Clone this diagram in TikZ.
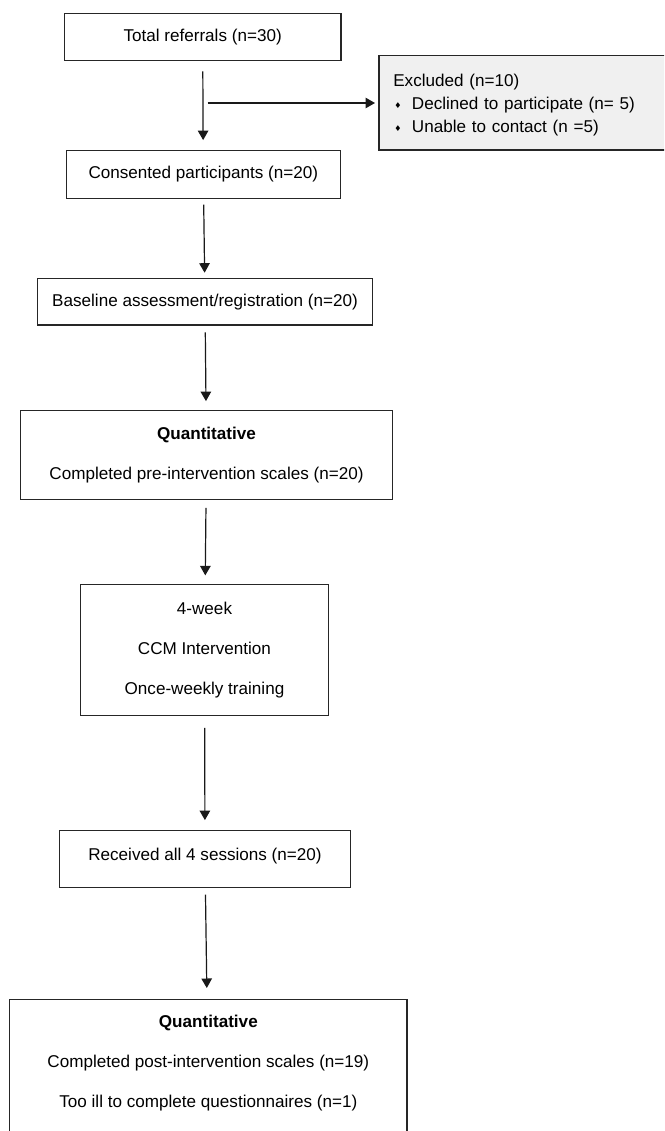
\documentclass[tikz,border=0pt]{standalone}
\usepackage{fontspec}
\setmainfont{Liberation Sans}
\newfontfamily\symfont{DejaVu Sans}
\usetikzlibrary{arrows.meta}
\begin{document}
\begin{tikzpicture}[x=1pt,y=-1pt,
  every node/.style={font=\fontsize{17.1pt}{20pt}\selectfont},
  box/.style={draw=black!85, line width=1.2pt, rectangle, inner sep=0pt, align=center},
  arr/.style={draw=black!90, line width=1.2pt, -{Triangle[width=10.5pt,length=9.5pt]}}]
\useasboundingbox (0,0) rectangle (664,1131);
\clip (0,0) rectangle (664,1131);

\node[box, minimum width=276.7pt, minimum height=47pt] (total) at (202.65,36.8) {Total referrals (n=30)};

\node[box, fill=black!6, anchor=west, minimum height=94.3pt, text width=305pt, align=left,
      inner xsep=14.4pt, text height=17.4pt, font=\fontsize{17.1pt}{23pt}\selectfont] (excl) at (378.3,102.85)
  {Excluded (n=10)\\
   \hspace*{1pt}\raisebox{1.5pt}{\symfont\fontsize{8pt}{8pt}\selectfont ♦}\hspace{10.5pt}Declined to participate (n= 5)\\
   \hspace*{1pt}\raisebox{1.5pt}{\symfont\fontsize{8pt}{8pt}\selectfont ♦}\hspace{10.5pt}Unable to contact (n =5)};

\node[box, minimum width=274pt, minimum height=48pt] (cons) at (203.3,174.3) {Consented participants (n=20)};

\node[box, minimum width=335.4pt, minimum height=46.3pt] (base) at (205,301.85) {Baseline assessment/registration (n=20)};

\node[box, minimum width=372.4pt, minimum height=88.6pt, font=\fontsize{17.1pt}{40pt}\selectfont] (quant) at (206.5,455)
  {\textbf{Quantitative}\\Completed pre-intervention scales (n=20)};

\node[box, minimum width=248.4pt, minimum height=131.4pt, font=\fontsize{17.1pt}{40pt}\selectfont] (week) at (204.5,650)
  {4-week\\CCM Intervention\\Once-weekly training};

\node[box, minimum width=291.4pt, minimum height=57pt, text height=12.4pt, text depth=10pt] (recv) at (205,859.2) {Received all 4 sessions (n=20)};

\node[box, anchor=north, minimum width=397.3pt, minimum height=200pt] (postbox) at (208.35,999) {};
\node[anchor=north, inner sep=0pt, align=center, font=\fontsize{17.1pt}{40pt}\selectfont] (posttext) at (208.35,1015.3)
  {\textbf{Quantitative}\\Completed post-intervention scales (n=19)\\Too ill to complete questionnaires (n=1)};

\coordinate (split) at (207.7,103);
\draw[arr, shorten <=10.4pt, shorten >=9.6pt] (total) -- (cons);
\draw[arr, shorten >=3.3pt] (split) -- (split -| excl.west);
\draw[arr, shorten <=5.7pt, shorten >=5.4pt] (cons) -- (base);
\draw[arr, shorten <=6.7pt, shorten >=9pt] (base) -- (quant);
\draw[arr, shorten <=8pt, shorten >=8.3pt] (quant) -- (week);
\draw[arr, shorten <=11.6pt, shorten >=10pt] (week) -- (recv);
\draw[arr, shorten <=6.3pt, shorten >=11pt] (recv) -- (postbox);
\end{tikzpicture}
\end{document}
